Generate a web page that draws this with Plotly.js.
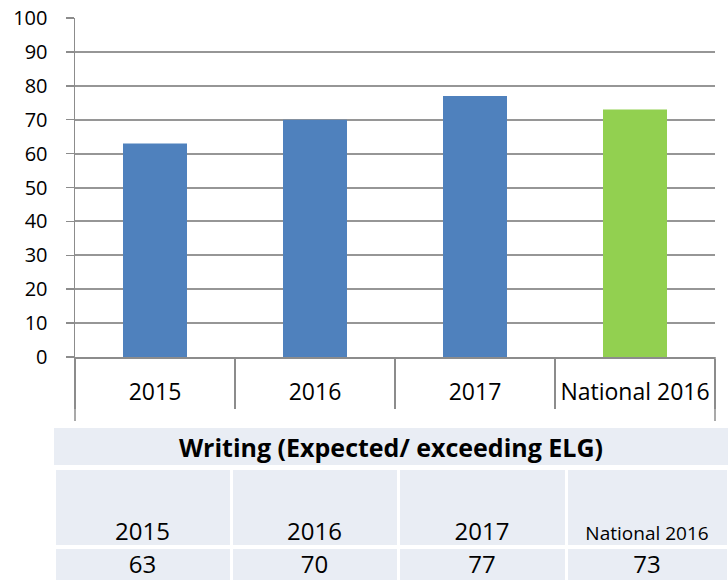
<!DOCTYPE html>
<html>
<head>
<meta charset="utf-8">
<script src="https://cdn.plot.ly/plotly-3.0.1.min.js"></script>
<style>html,body{margin:0;padding:0;background:#fff;}#chart{width:728px;height:581px;}</style>
</head>
<body>
<div id="chart"></div>
<script>
const categories = ['2015', '2016', '2017', 'National 2016'];
const values = [63, 70, 77, 73];
const barColors = ['#4f81bd', '#4f81bd', '#4f81bd', '#92d050'];
const tableTitle = 'Writing (Expected/ exceeding ELG)';
const yTickVals = [0, 10, 20, 30, 40, 50, 60, 70, 80, 90, 100];

const W = 728, H = 581;
const FONT = 'Open Sans, sans-serif';
const plotL = 75, plotR = 715, plotT = 18, plotB = 357;
const TABLE_FILL = '#e9edf4';
const colWidths = [177, 167, 168, 162];
const yearFontSizes = [24, 24, 24, 19];

const bars = {
  type: 'bar',
  x: categories,
  y: values,
  width: 0.4,
  marker: {color: barColors, line: {width: 0}},
  hoverinfo: 'x+y',
  showlegend: false
};

function headerTable(vals, y0, y1, height, fontSize, widths, lineW) {
  return {
    type: 'table',
    domain: {x: [54 / W, 1], y: [(H - y1) / H, (H - y0) / H]},
    columnwidth: widths,
    header: {
      values: vals,
      fill: {color: TABLE_FILL},
      line: {color: '#ffffff', width: lineW},
      align: 'center',
      height: height,
      font: {family: FONT, size: fontSize, color: '#000000'}
    },
    cells: {values: vals.map(() => []), line: {color: '#ffffff', width: 0}}
  };
}

const titleTable = headerTable(['<b>' + tableTitle + '</b>'], 422, 465, 43, 25, [1], 0);
const yearTable = headerTable(
  categories.map((c, i) => '&nbsp;<br><span style="font-size:' + yearFontSizes[i] + 'px">' + c + '</span>'),
  468, 545, 77, 27, colWidths, 3);
const valueTable = headerTable(values.map(v => String(v)), 547, 581, 34, 24, colWidths, 3);

const layout = {
  width: W,
  height: H,
  margin: {l: 0, r: 0, t: 0, b: 0},
  paper_bgcolor: '#ffffff',
  plot_bgcolor: '#ffffff',
  font: {family: FONT, color: '#000000'},
  showlegend: false,
  xaxis: {
    domain: [plotL / W, plotR / W],
    type: 'category',
    range: [-0.5, categories.length - 0.5],
    tickson: 'boundaries',
    ticks: 'outside',
    ticklen: 50,
    tickwidth: 1.5,
    tickcolor: '#8c8c8c',
    showline: true,
    linecolor: '#8c8c8c',
    linewidth: 1.5,
    showgrid: false,
    zeroline: false,
    ticklabelstandoff: 14,
    tickfont: {family: FONT, size: 23, color: '#000000'},
    fixedrange: true
  },
  yaxis: {
    domain: [(H - plotB) / H, (H - plotT) / H],
    range: [0, 100],
    tickvals: yTickVals,
    ticks: 'outside',
    ticklen: 8,
    tickwidth: 1.5,
    tickcolor: '#8c8c8c',
    showline: true,
    linecolor: '#8c8c8c',
    linewidth: 1.5,
    showgrid: true,
    gridcolor: '#969696',
    gridwidth: 2,
    zeroline: false,
    ticklabelstandoff: 14,
    tickfont: {family: FONT, size: 20, color: '#000000'},
    fixedrange: true
  },
  shapes: [0, 1].map(xd => ({
    type: 'line', xref: 'x domain', yref: 'y domain',
    x0: xd, x1: xd, y0: 0, y1: -(425 - plotB) / (plotB - plotT),
    line: {color: '#8c8c8c', width: 1.5}
  })).concat([{
    type: 'rect', xref: 'paper', yref: 'paper', layer: 'above',
    x0: 50 / W, x1: 1, y0: (H - 428) / H, y1: (H - 421) / H,
    fillcolor: '#ffffff', line: {width: 0}
  }])
};

Plotly.newPlot('chart', [bars, titleTable, yearTable, valueTable], layout, {displayModeBar: false, staticPlot: true});
</script>
</body>
</html>
